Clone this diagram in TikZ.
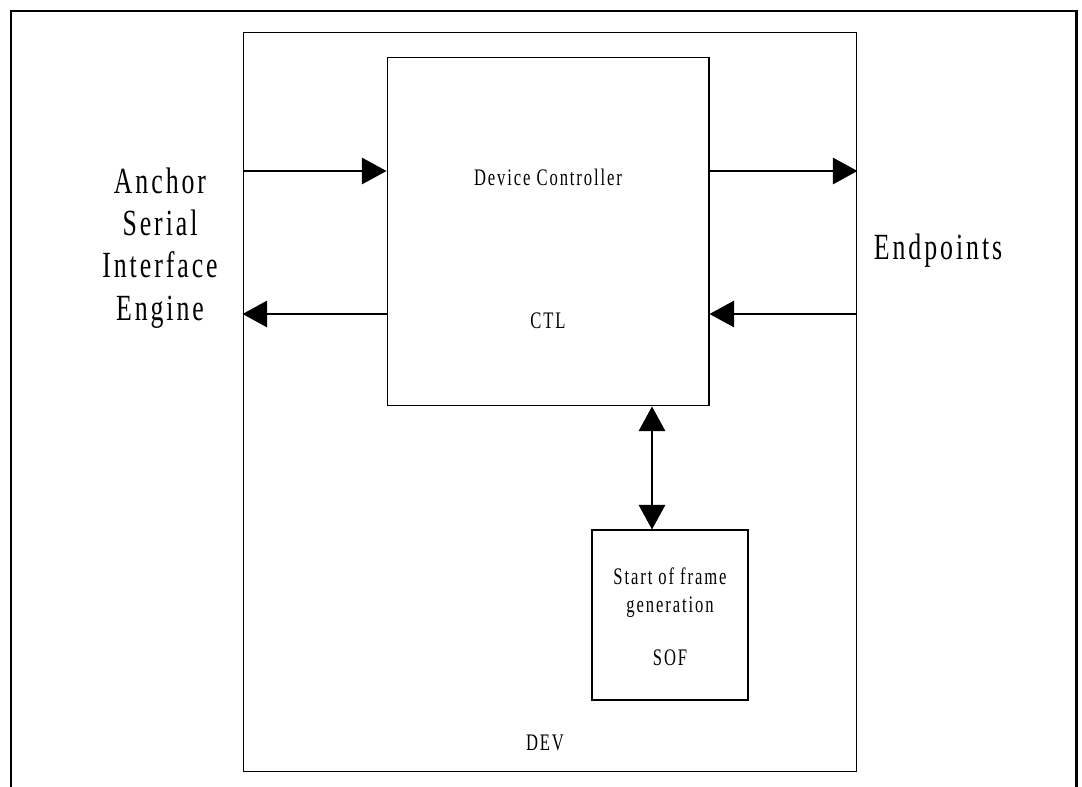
\documentclass[tikz,border=0pt]{standalone}
\usepackage{fontspec}
\setmainfont{Liberation Serif}[FakeStretch=0.7,LetterSpace=8]
\usetikzlibrary{arrows.meta}
\tikzset{
  blk/.style={draw,line width=0.6pt,minimum width=#1,inner sep=0pt},
  sig/.style={line width=1.1pt,-{Triangle[length=14pt,width=15pt]}},
  bisig/.style={line width=1.1pt,{Triangle[length=14pt,width=15pt]}-{Triangle[length=14pt,width=15pt]}},
  big/.style={font=\fontsize{21}{24}\selectfont,align=center},
  small/.style={font=\fontsize{13.5}{16}\selectfont,align=center}
}
\begin{document}
\begin{tikzpicture}[x=0.02cm,y=-0.02cm]
  \useasboundingbox (0,0) rectangle (1082,787);
  % outer frame, open at the bottom
  \draw[line width=1.7pt] (11,787)--(11,11)--(1076,11)--(1076,787);
  % blocks
  \node[blk=12.28cm,minimum height=14.8cm] (dev) at (550,402) {};
  \node[blk=6.44cm,minimum height=6.98cm] (ctl) at (548,231.5) {};
  \node[blk=3.12cm,minimum height=3.4cm] (sof) at (670,615) {};
  % texts
  \node[small] (ctlname) at (548,177) {Device Controller};
  \node[small] (ctlid) at (548,321) {CTL};
  \node[small] (sofname) at (670,593) {Start of frame\\generation};
  \node[small] (sofid) at (670,658) {SOF};
  \node[small] (devid) at (545,743) {DEV};
  \node[big] (sie) at (160,248) {Anchor\\Serial\\Interface\\Engine};
  \node[big] (ep) at (938,251) {Endpoints};
  % signals
  \coordinate (siein) at (dev.west |- 0,171);
  \coordinate (sieout) at (dev.west |- 0,314);
  \coordinate (epout) at (dev.east |- 0,171);
  \coordinate (epin) at (dev.east |- 0,314);
  \draw[sig] (siein) -- (ctl.west |- siein);
  \draw[sig] (ctl.west |- sieout) -- (sieout);
  \draw[sig] (ctl.east |- epout) -- (epout);
  \draw[sig] (epin) -- (ctl.east |- epin);
  \draw[bisig] (ctl.south -| 652,0) -- (sof.north -| 652,0);
\end{tikzpicture}
\end{document}
